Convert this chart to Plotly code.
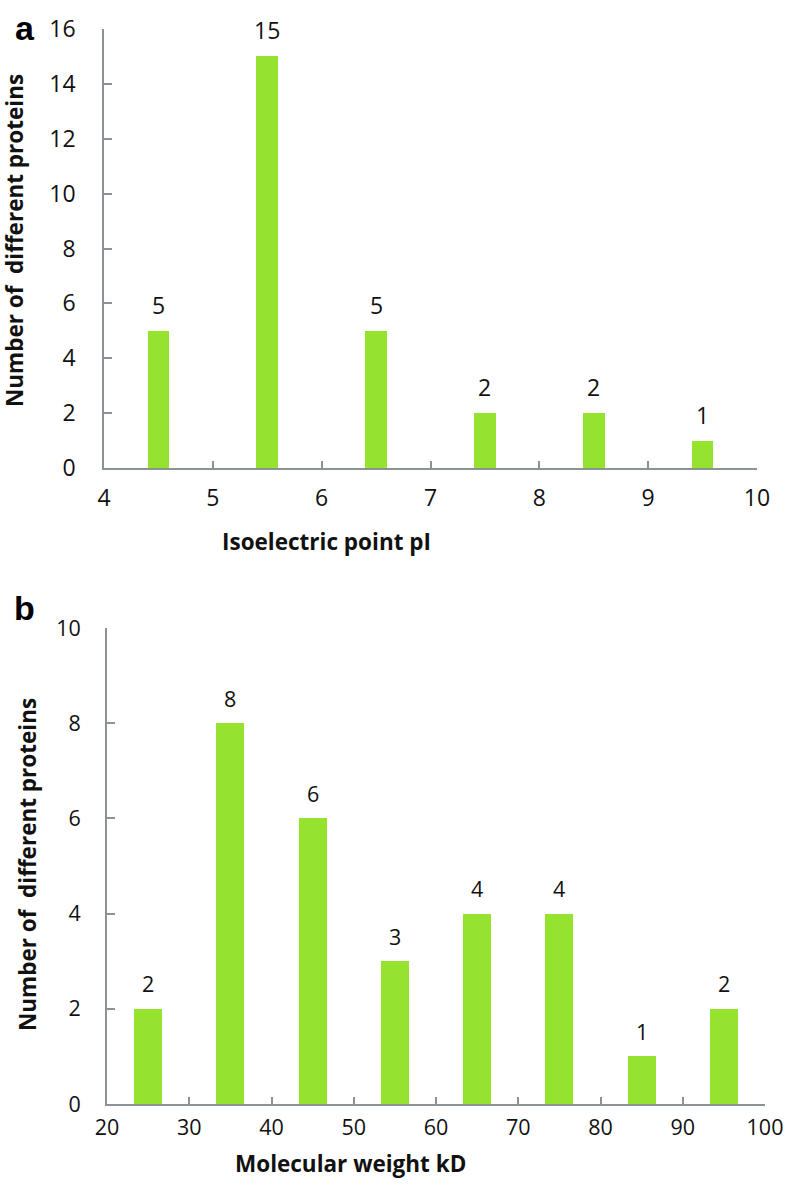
import plotly.graph_objects as go

# Panel a: isoelectric point distribution
pi_bins = [4.5, 5.5, 6.5, 7.5, 8.5, 9.5]
pi_counts = [5, 15, 5, 2, 2, 1]
pi_ticks = [4, 5, 6, 7, 8, 9, 10]

# Panel b: molecular weight distribution
mw_bins = [25, 35, 45, 55, 65, 75, 85, 95]
mw_counts = [2, 8, 6, 3, 4, 4, 1, 2]
mw_ticks = [20, 30, 40, 50, 60, 70, 80, 90, 100]

W, H = 786, 1187
BAR = "#95E22F"
AX = "#8A9296"
TXT = "#111111"
FONT = "Open Sans"

def px_x(p):
    return p / W

def px_y(p):
    return 1 - p / H

fig = go.Figure()
fig.add_trace(go.Bar(x=pi_bins, y=pi_counts, width=0.2, marker=dict(color=BAR, line=dict(width=0)),
                     xaxis="x", yaxis="y", showlegend=False, hoverinfo="x+y"))
fig.add_trace(go.Bar(x=mw_bins, y=mw_counts, width=3.4, marker=dict(color=BAR, line=dict(width=0)),
                     xaxis="x2", yaxis="y2", showlegend=False, hoverinfo="x+y"))

axcommon = dict(showgrid=False, zeroline=False, showline=True, linecolor=AX, linewidth=1.6,
                ticks="inside", tickcolor=AX, tickwidth=1.6, automargin=False, fixedrange=True)
fa = dict(family=FONT, size=23, color=TXT)
fb = dict(family=FONT, size=21.5, color=TXT)

annotations = []
for x, y in zip(pi_bins, pi_counts):
    annotations.append(dict(x=x, y=y, xref="x", yref="y", text=str(y), showarrow=False,
                            yshift=26, yanchor="middle", font=fa))
for x, y in zip(mw_bins, mw_counts):
    annotations.append(dict(x=x, y=y, xref="x2", yref="y2", text=str(y), showarrow=False,
                            yshift=25, yanchor="middle", font=fb))

bold = dict(family=FONT, size=22.5, color=TXT)
annotations += [
    dict(x=px_x(326), y=px_y(542), xref="paper", yref="paper", text="<b>Isoelectric point pI</b>",
         showarrow=False, xanchor="center", yanchor="middle", font=bold),
    dict(x=px_x(15), y=px_y(241), xref="paper", yref="paper", text="<b>Number of  different proteins</b>",
         showarrow=False, textangle=-90, xanchor="center", yanchor="middle", font=bold),
    dict(x=px_x(350), y=px_y(1163), xref="paper", yref="paper", text="<b>Molecular weight kD</b>",
         showarrow=False, xanchor="center", yanchor="middle", font=bold),
    dict(x=px_x(27), y=px_y(865), xref="paper", yref="paper", text="<b>Number of  different proteins</b>",
         showarrow=False, textangle=-90, xanchor="center", yanchor="middle", font=bold),
    dict(x=px_x(25), y=px_y(28), xref="paper", yref="paper", text="<b>a</b>",
         showarrow=False, xanchor="center", yanchor="middle",
         font=dict(family="Liberation Sans", size=34, color="#000000")),
    dict(x=px_x(24), y=px_y(608), xref="paper", yref="paper", text="<b>b</b>",
         showarrow=False, xanchor="center", yanchor="middle",
         font=dict(family="Liberation Sans", size=34, color="#000000")),
]

fig.update_layout(
    width=W, height=H, autosize=False,
    margin=dict(l=0, r=0, t=0, b=0, pad=0),
    paper_bgcolor="white", plot_bgcolor="white",
    bargap=0,
    xaxis=dict(domain=[px_x(104), px_x(757)], range=[4, 10], tickvals=pi_ticks, ticklen=7,
               anchor="y", ticklabelstandoff=9, tickfont=fa, **axcommon),
    yaxis=dict(domain=[px_y(468), px_y(29)], range=[0, 16], tickvals=list(range(0, 17, 2)), ticklen=8,
               anchor="x", ticklabelstandoff=22, tickfont=fa, **axcommon),
    xaxis2=dict(domain=[px_x(107), px_x(765)], range=[20, 100], tickvals=mw_ticks, ticklen=7,
                anchor="y2", ticklabelstandoff=3, tickfont=fb, **axcommon),
    yaxis2=dict(domain=[px_y(1104), px_y(628)], range=[0, 10], tickvals=list(range(0, 11, 2)), ticklen=8,
                anchor="x2", ticklabelstandoff=20, tickfont=fb, **axcommon),
    annotations=annotations,
)

fig.write_html(
    "out.html",
    config={"displayModeBar": False},
    post_script="document.body.style.margin='0';document.body.style.overflow='hidden';"
                "document.documentElement.style.overflow='hidden';",
)
